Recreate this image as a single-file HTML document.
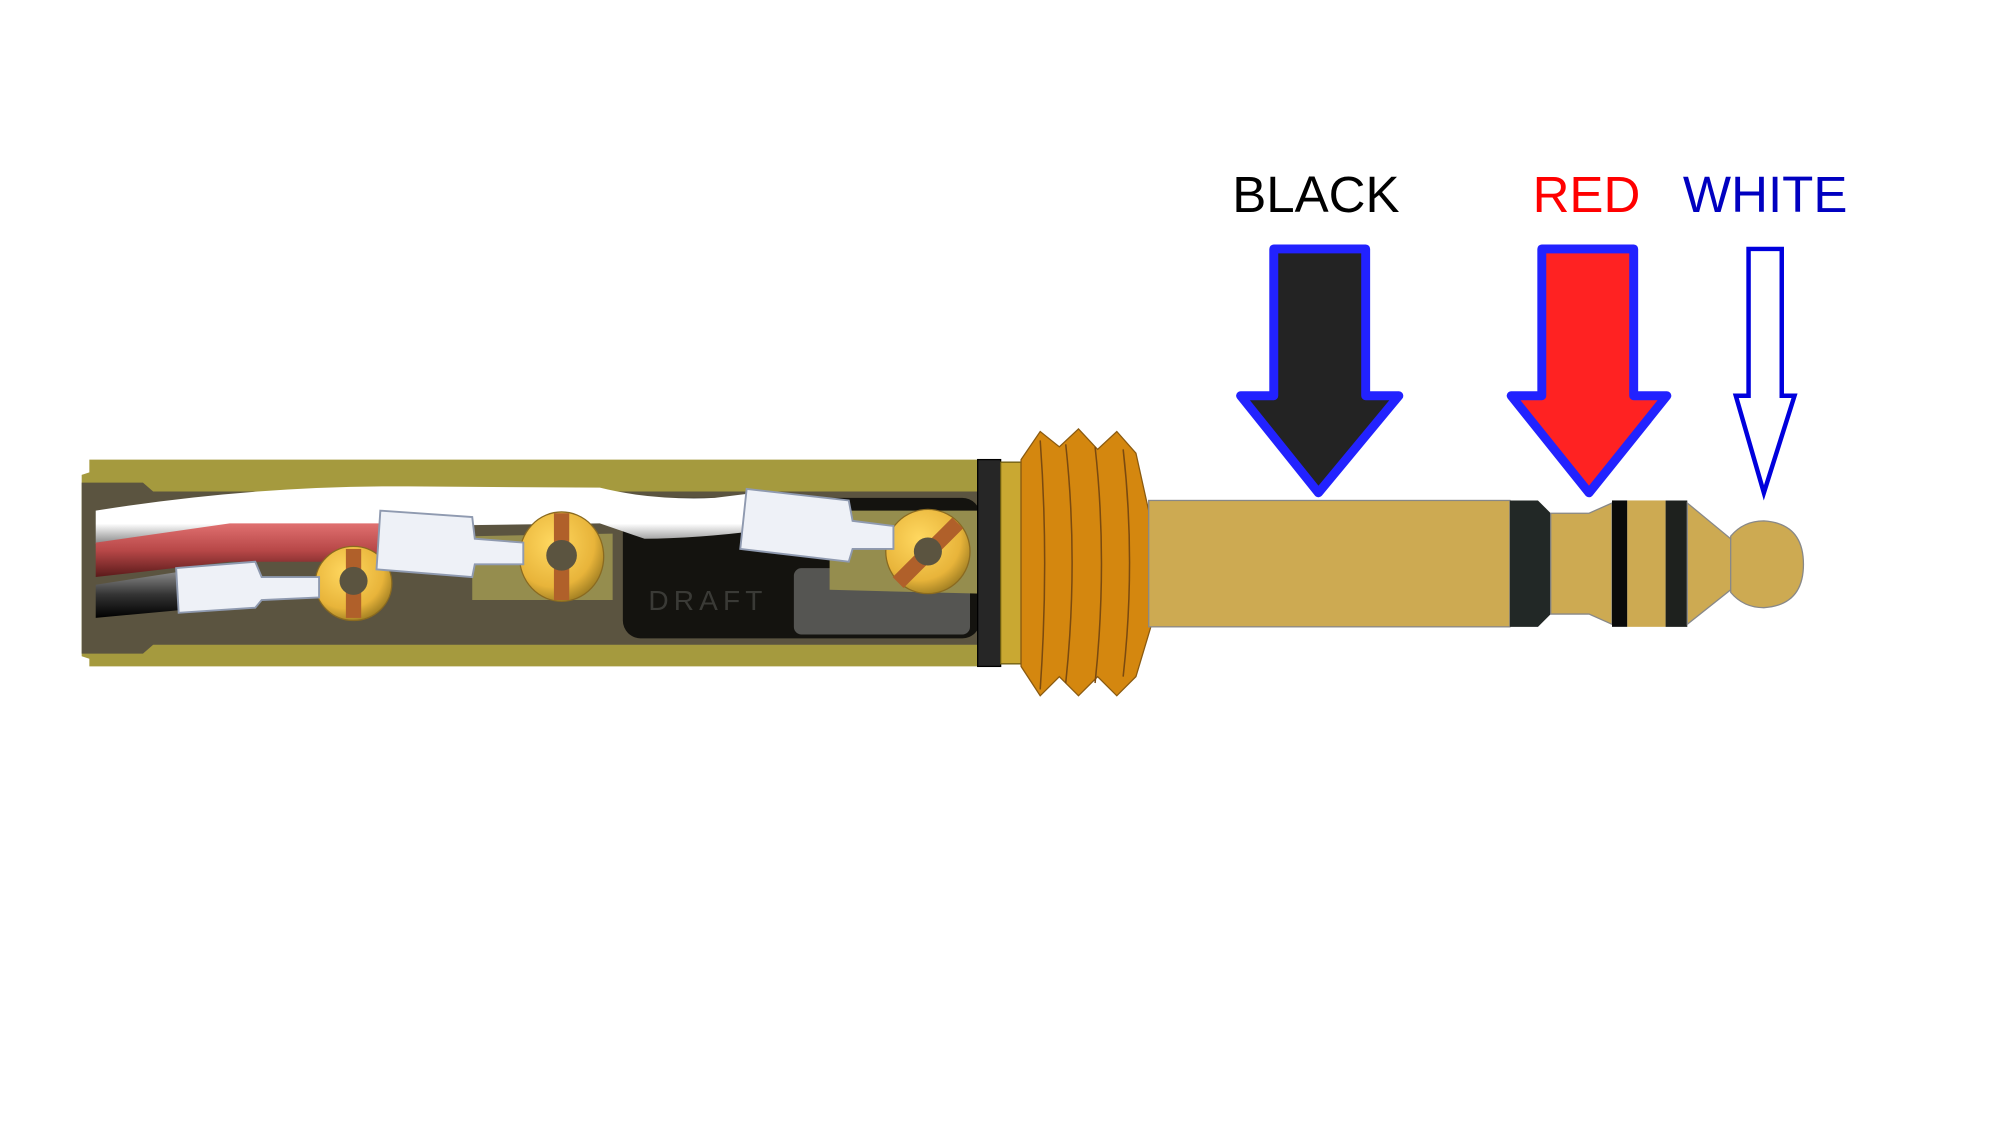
<!DOCTYPE html>
<html><head><meta charset="utf-8"><style>html,body{margin:0;padding:0;background:#fff}svg{display:block}</style></head>
<body>
<svg width="2000" height="1126" viewBox="0 0 1567 882" preserveAspectRatio="none" xmlns="http://www.w3.org/2000/svg">
<defs>
<linearGradient id="red" x1="0" y1="0" x2="0" y2="1"><stop offset="0" stop-color="#e07070"/><stop offset=".5" stop-color="#b84848"/><stop offset="1" stop-color="#5a1a1a"/></linearGradient>
<linearGradient id="blk" x1="0" y1="0" x2="0" y2="1"><stop offset="0" stop-color="#888"/><stop offset=".5" stop-color="#333"/><stop offset="1" stop-color="#000"/></linearGradient>
<linearGradient id="wht" x1="0" y1="0" x2="0" y2="1"><stop offset="0" stop-color="#fff"/><stop offset=".65" stop-color="#fff"/><stop offset="1" stop-color="#888"/></linearGradient>
<radialGradient id="gold" cx=".4" cy=".35" r=".7"><stop offset="0" stop-color="#ffd860"/><stop offset=".7" stop-color="#e8b43a"/><stop offset="1" stop-color="#9a7a20"/></radialGradient>
</defs>
<path d="M70,360 L768,360 L768,522 L70,522 L70,516 L64,514 L64,372 L70,370 Z" fill="#a59a3e"/>
<path d="M64,378 L112,378 L120,385 L768,385 L768,505 L120,505 L112,512 L64,512 Z" fill="#5b5440"/>
<rect x="488" y="390" width="280" height="110" rx="14" fill="#14130f"/>
<rect x="622" y="445" width="138" height="52" rx="6" fill="#555552"/>
<text x="508" y="478" font-family="Liberation Sans, sans-serif" font-size="22" letter-spacing="4" fill="#3a3a36">DRAFT</text>
<path d="M370,420 L480,418 L480,470 L370,470 Z" fill="#958d4e"/>
<path d="M650,400 L768,400 L768,465 L650,462 Z" fill="#958d4e"/>
<path d="M75,400 Q200,380 320,381 L470,382 Q510,392 560,390 L600,385 L600,415 Q545,422 505,422 L470,410 L320,412 Q200,412 75,426 Z" fill="url(#wht)"/>
<path d="M75,425 L180,410 L300,410 L300,440 L180,440 L75,452 Z" fill="url(#red)"/>
<path d="M75,458 L140,448 L140,478 L75,484 Z" fill="url(#blk)"/>
<g stroke="#8a6a20" stroke-width="1">
<ellipse cx="277" cy="457" rx="30" ry="29" fill="url(#gold)"/>
<ellipse cx="440" cy="436" rx="33" ry="35" fill="url(#gold)"/>
<ellipse cx="727" cy="432" rx="33" ry="33" fill="url(#gold)"/>
</g>
<rect x="271" y="430" width="12" height="54" fill="#b0602a"/>
<rect x="434" y="402" width="12" height="68" fill="#b0602a"/>
<rect x="721" y="400" width="12" height="66" fill="#b0602a" transform="rotate(45 727 433)"/>
<circle cx="277" cy="455" r="11" fill="#5b5440"/>
<circle cx="440" cy="435" r="12" fill="#5b5440"/>
<circle cx="727" cy="432" r="11" fill="#5b5440"/>
<g fill="#eef1f7" stroke="#8f9ab0" stroke-width="1.5">
<path d="M138,445 L200,440 L205,452 L250,452 L250,468 L205,470 L200,476 L140,480 Z"/>
<path d="M298,400 L370,405 L372,422 L410,425 L410,442 L372,442 L370,452 L295,446 Z"/>
<path d="M585,383 L665,392 L668,408 L700,412 L700,430 L668,430 L665,440 L580,430 Z"/>
</g>
<rect x="766" y="360" width="18" height="162" fill="#262626" stroke="#000"/>
<rect x="784" y="362" width="16" height="158" fill="#c9a832" stroke="#6a5a10"/>
<path d="M800,360 L815,338 L830,350 L845,336 L860,352 L875,338 L890,355 L900,400 L902,490 L890,530 L875,545 L860,530 L845,545 L830,530 L815,545 L800,522 Z" fill="#d4870f" stroke="#8a5a10" stroke-width="1"/>
<g stroke="#7a4a10" stroke-width="1.2" fill="none">
<path d="M815,345 Q822,440 815,540"/><path d="M835,348 Q845,440 835,535"/><path d="M858,350 Q868,440 858,535"/><path d="M880,352 Q890,440 880,530"/>
</g>
<rect x="900" y="392" width="283" height="99" fill="#cdaa52" stroke="#888" stroke-width="1"/>
<path d="M1183,392 L1205,392 L1215,402 L1215,481 L1205,491 L1183,491 Z" fill="#222826"/>
<path d="M1215,402 L1245,402 L1263,394 L1263,489 L1245,481 L1215,481 Z" fill="#cdaa52" stroke="#888" stroke-width="1"/>
<rect x="1263" y="392" width="12" height="99" fill="#0a0a0a"/>
<rect x="1275" y="392" width="30" height="99" fill="#cdaa52"/>
<path d="M1305,392 L1322,392 L1322,491 L1305,491 Z" fill="#1e211e"/>
<path d="M1322,394 L1356,422 L1356,462 L1322,489 Z" fill="#cdaa52" stroke="#888" stroke-width="1"/>
<path d="M1356,420 Q1366,408 1382,408 Q1413,410 1413,442 Q1413,474 1382,476 Q1366,476 1356,464 Z" fill="#cdaa52" stroke="#888" stroke-width="1"/>
<path d="M998,195 L1070,195 L1070,310 L1096,310 L1033,386 L972,310 L998,310 Z" fill="#232323" stroke="#2222ff" stroke-width="7" stroke-linejoin="round"/>
<path d="M1208,195 L1280,195 L1280,310 L1306,310 L1245,386 L1184,310 L1208,310 Z" fill="#ff2222" stroke="#2222ff" stroke-width="7" stroke-linejoin="round"/>
<path d="M1370,195 L1396,195 L1396,310 L1406,310 L1382,386 L1360,310 L1370,310 Z" fill="#fff" stroke="#0000dd" stroke-width="3.5"/>
<g font-family="Liberation Sans, sans-serif" font-size="40" text-anchor="middle">
<text x="1031" y="166" fill="#000">BLACK</text>
<text x="1243" y="166" fill="#ff0000">RED</text>
<text x="1383" y="166" fill="#0000c0">WHITE</text>
</g>
</svg>
</body></html>
